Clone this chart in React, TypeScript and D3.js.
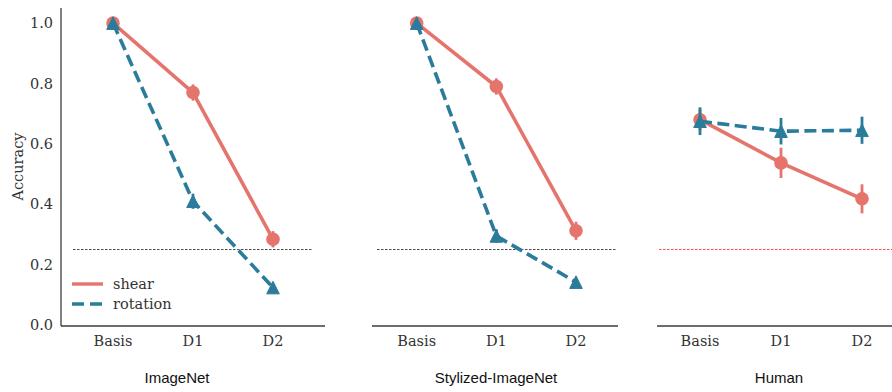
import React from "react";
import * as d3 from "d3";

// Categories and panels
const categories = ["Basis", "D1", "D2"];
const datasets = ["ImageNet", "Stylized-ImageNet", "Human"];
const yTicks = [0, 0.2, 0.4, 0.6, 0.8, 1.0];
const chanceLevel = 0.25;

// Mean accuracy per dataset (Basis, D1, D2)
const imagenetShear = [1.0, 0.77, 0.284];
const imagenetRotation = [1.0, 0.41, 0.124];
const stylizedShear = [1.0, 0.79, 0.312];
const stylizedRotation = [1.0, 0.295, 0.142];
const humanShear = [0.68, 0.537, 0.418];
const humanRotation = [0.675, 0.642, 0.645];

// Error-bar half-widths
const imagenetShearErr = [0, 0.027, 0.027];
const imagenetRotationErr = [0, 0.025, 0.012];
const stylizedShearErr = [0, 0.027, 0.03];
const stylizedRotationErr = [0, 0.022, 0.01];
const humanShearErr = [0.035, 0.05, 0.048];
const humanRotationErr = [0.046, 0.044, 0.045];

const SHEAR = "#e5746d";
const ROTATION = "#2b7b9b";
const TEXT = "#333333";
const SPINE = "#3d3d3d";

const W = 892;
const H = 392;
const yTop = 8;
const yBottom = 325;

// Panel geometry: spine extent, first/last category positions, chance-line extent, title centre
const panels = [
  { spine: [61, 325], pts: [113, 273], chance: [73, 313], chanceColor: "#4a4a4a", titleX: 177, shear: imagenetShear, rot: imagenetRotation, shearErr: imagenetShearErr, rotErr: imagenetRotationErr },
  { spine: [372, 618], pts: [416.7, 576], chance: [377, 617], chanceColor: "#4a4a4a", titleX: 496, shear: stylizedShear, rot: stylizedRotation, shearErr: stylizedShearErr, rotErr: stylizedRotationErr },
  { spine: [657, 892], pts: [700, 862], chance: [659, 892], chanceColor: "#e8534b", titleX: 779, shear: humanShear, rot: humanRotation, shearErr: humanShearErr, rotErr: humanRotationErr },
];

const y = d3.scaleLinear().domain([0, 1.05]).range([yBottom, yTop]);
const serif = "'DejaVu Serif', serif";
const sans = "'Liberation Sans', Arial, sans-serif";

function triangle(cx: number, cy: number, r: number) {
  return `M${cx},${cy - r}L${cx - r},${cy + r}L${cx + r},${cy + r}Z`;
}

function Series({ x, values, errs, color, dashed, marker }: any) {
  const line = d3
    .line<number>()
    .x((_, i) => x(categories[i]) as number)
    .y((d) => y(d));
  return (
    <g>
      {values.map((v: number, i: number) =>
        errs[i] > 0 ? (
          <line
            key={"e" + i}
            x1={x(categories[i])}
            x2={x(categories[i])}
            y1={y(v - errs[i])}
            y2={y(v + errs[i])}
            stroke={color}
            strokeWidth={2.8}
          />
        ) : null
      )}
      <path
        d={line(values) || ""}
        fill="none"
        stroke={color}
        strokeWidth={3.6}
        strokeDasharray={dashed ? "12,5.5" : undefined}
      />
      {values.map((v: number, i: number) =>
        marker === "circle" ? (
          <circle key={"m" + i} cx={x(categories[i])} cy={y(v)} r={6.8} fill={color} />
        ) : (
          <path key={"m" + i} d={triangle(x(categories[i]) as number, y(v), 6.3)} fill={color} stroke={color} strokeWidth={1} />
        )
      )}
    </g>
  );
}

export default function App() {
  return (
    <svg width={W} height={H} style={{ position: "absolute", left: 0, top: 0, background: "#fff" }}>
      <rect width={W} height={H} fill="#fff" />
      {/* y axis (shared) */}
      <line x1={61} x2={61} y1={yTop} y2={yBottom + 1} stroke={SPINE} strokeWidth={1.3} />
      {yTicks.map((t) => (
        <text key={t} x={53} y={y(t)} dy="0.35em" textAnchor="end" fontFamily={serif} fontSize={14.5} fill={TEXT}>
          {t.toFixed(1)}
        </text>
      ))}
      <text
        transform={`translate(18,${(yTop + yBottom) / 2}) rotate(-90)`}
        textAnchor="middle"
        dy="0.35em"
        fontFamily={serif}
        fontSize={14.5}
        fill={TEXT}
      >
        Accuracy
      </text>

      {panels.map((p, pi) => {
        const x = d3.scalePoint<string>().domain(categories).range(p.pts as [number, number]);
        return (
          <g key={pi}>
            <line x1={p.spine[0]} x2={p.spine[1]} y1={yBottom + 1} y2={yBottom + 1} stroke={SPINE} strokeWidth={1.3} />
            <line
              x1={p.chance[0]}
              x2={p.chance[1]}
              y1={y(chanceLevel)}
              y2={y(chanceLevel)}
              stroke={p.chanceColor}
              strokeWidth={1}
              strokeDasharray="2.5,1.5"
            />
            {categories.map((c) => (
              <text key={c} x={x(c)} y={341} dy="0.35em" textAnchor="middle" fontFamily={serif} fontSize={14.5} fill={TEXT}>
                {c}
              </text>
            ))}
            <text x={p.titleX} y={378} dy="0.35em" textAnchor="middle" fontFamily={sans} fontSize={15} fill="#111">
              {datasets[pi]}
            </text>
            <Series x={x} values={p.shear} errs={p.shearErr} color={SHEAR} dashed={false} marker="circle" />
            <Series x={x} values={p.rot} errs={p.rotErr} color={ROTATION} dashed={true} marker="triangle" />
          </g>
        );
      })}

      {/* legend */}
      <g>
        <line x1={72} x2={103} y1={284} y2={284} stroke={SHEAR} strokeWidth={3.4} />
        <line x1={72} x2={103} y1={304} y2={304} stroke={ROTATION} strokeWidth={3.4} strokeDasharray="12,6" />
        <text x={113} y={284} dy="0.35em" fontFamily={serif} fontSize={14.5} fill={TEXT}>shear</text>
        <text x={113} y={304} dy="0.35em" fontFamily={serif} fontSize={14.5} fill={TEXT}>rotation</text>
      </g>
    </svg>
  );
}
